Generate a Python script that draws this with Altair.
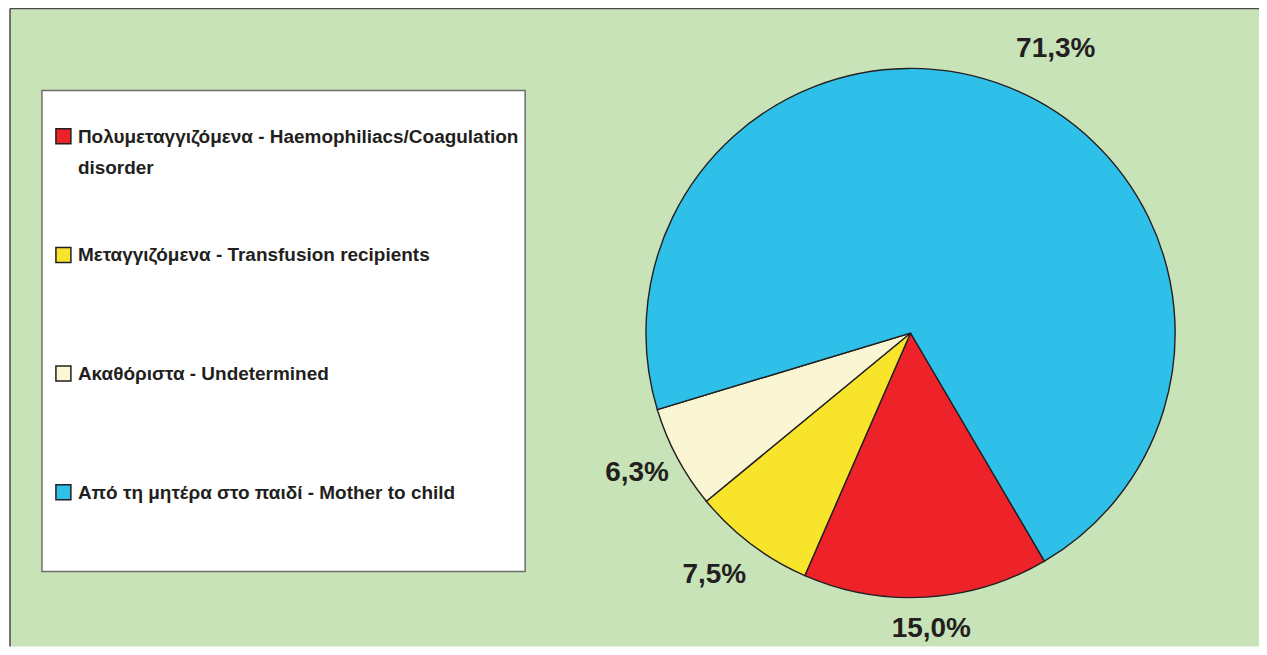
import altair as alt
import pandas as pd

# ---- data ----
legend_labels = [
    "Πολυμεταγγιζόμενα - Haemophiliacs/Coagulation\ndisorder",
    "Μεταγγιζόμενα - Transfusion recipients",
    "Ακαθόριστα - Undetermined",
    "Από τη μητέρα στο παιδί - Mother to child",
]
keys = ["haem", "transf", "undet", "mtc"]
values = [15.0, 7.5, 6.3, 71.3]
pct_labels = ["15,0%", "7,5%", "6,3%", "71,3%"]
colors = ["#ee2229", "#f8e52b", "#faf5d2", "#2ec0e8"]

df = pd.DataFrame({
    "key": keys,
    "label": legend_labels,
    "value": values,
    "pct": pct_labels,
    "order": list(range(len(keys))),
})

PI = 3.141592653589793
START = 149.6 * PI / 180.0
CX, CY = 902, 325
R = 265
W, H = 1251, 639
FONT = "Liberation Sans"
INK = "#231f20"

theta = alt.Theta("value:Q", stack=True,
                  scale=alt.Scale(range=[START, START + 2 * PI]))
color = alt.Color("key:N", scale=alt.Scale(domain=keys, range=colors), legend=None)
order = alt.Order("order:Q")

base = alt.Chart(df)

pie = base.mark_arc(radius=R, stroke=INK, strokeWidth=1.4).encode(
    theta=theta, color=color, order=order,
    x=alt.value(CX), y=alt.value(CY),
)


def pct_layer(key, radius, theta_offset=0.0):
    return base.mark_text(radius=radius, thetaOffset=theta_offset, font=FONT,
                          fontSize=28, fontWeight="bold", color=INK,
                          align="center", baseline="middle").encode(
        theta=theta, order=order,
        text=alt.condition(f"datum.key == '{key}'", "pct:N", alt.value("")),
        x=alt.value(CX), y=alt.value(CY),
    )


pct_red = pct_layer("haem", 297, -0.01)
pct_yellow = pct_layer("transf", 312, 0.035)
pct_cream = pct_layer("undet", 308, 0.017)
pct_blue = pct_layer("mtc", 319, 0.10)

one = alt.Chart(pd.DataFrame({"b": [0]}))

frame_top = one.mark_rule(color="#4a4a4a", strokeWidth=1.5).encode(
    x=alt.value(0), x2=alt.value(W), y=alt.value(0))
frame_left = one.mark_rule(color="#4a4a4a", strokeWidth=1.5).encode(
    x=alt.value(0), y=alt.value(0), y2=alt.value(H))

box = one.mark_rect(fill="white", stroke="#6e6e6e", strokeWidth=1.5).encode(
    x=alt.value(32), x2=alt.value(516), y=alt.value(82), y2=alt.value(564))

row_y = alt.Y("order:Q", scale=alt.Scale(domain=[0, 3], range=[128, 484.5]), axis=None)

swatches = base.mark_square(size=225, stroke=INK, strokeWidth=1.5, opacity=1).encode(
    x=alt.value(53.5), y=row_y, color=color,
)

leg_text = base.transform_calculate(
    lines="split(datum.label, '\\n')"
).mark_text(align="left", baseline="alphabetic", dy=6.5, font=FONT, fontSize=19,
            fontWeight="bold", color=INK, lineHeight=31).encode(
    x=alt.value(68), y=row_y, text="lines:N",
)

chart = alt.layer(
    frame_top, frame_left, box, swatches, leg_text, pie,
    pct_red, pct_yellow, pct_cream, pct_blue
).properties(
    width=W, height=H,
    padding={"left": 2, "top": 0, "right": 0, "bottom": 0},
    autosize=alt.AutoSizeParams(type="none"),
).configure(background="white").configure_view(
    fill="#c9e3b9", stroke=None
)

chart.save("out.html", embed_options={"renderer": "svg", "actions": False})
